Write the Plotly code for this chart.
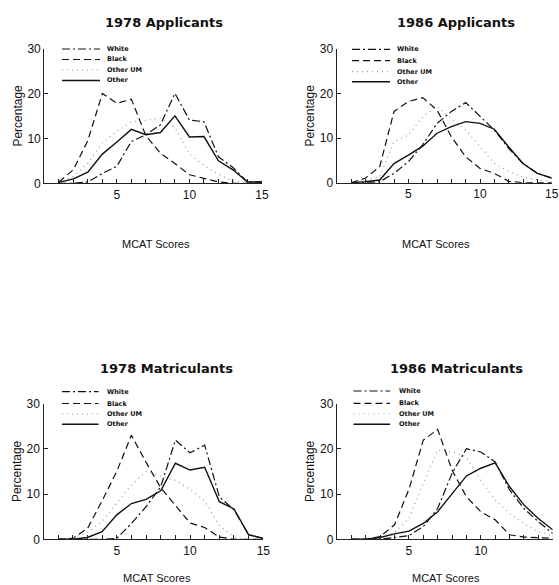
import plotly.graph_objects as go

W, H = 559, 585

scores = list(range(1, 16))
series_names = ["White", "Black", "Other UM", "Other"]
panel_titles = ["1978 Applicants", "1986 Applicants", "1978 Matriculants", "1986 Matriculants"]
x_tick_vals = list(range(1, 16))
x_tick_text = ["" if v % 5 else str(v) for v in x_tick_vals]
y_tick_vals = [0, 10, 20, 30]
y_tick_text = ["0", "10", "20", "30"]

app78_white = [0, 0, 0.3, 2.2, 3.8, 9.3, 10.8, 13, 20, 14.1, 13.7, 5.9, 3.5, 0.3, 0.3]
app78_black = [0.3, 3, 9.5, 20, 17.8, 18.7, 10.6, 6.7, 4.4, 1.9, 1.1, 0.3, 0, 0, 0]
app78_otherum = [0, 1.5, 4.5, 9, 11.5, 13.7, 14, 14.5, 12.5, 6.5, 4, 2, 0.5, 0, 0]
app78_other = [0.2, 1, 2.5, 6.5, 9.2, 12, 10.8, 11.3, 15, 10.3, 10.4, 5, 3, 0.3, 0.3]

app86_white = [0, 0, 0.2, 2.1, 4.7, 8.5, 13.3, 16, 18, 14.8, 11.8, 7.7, 4.3, 2.1, 1]
app86_black = [0, 1, 3.6, 16, 18.2, 19.1, 16.3, 10.3, 5.8, 3.2, 2.1, 0.3, 0, 0, 0]
app86_otherum = [0, 0.5, 1.3, 9.2, 10.7, 14.8, 17.1, 14.5, 11.8, 8.1, 4.3, 2.5, 1.3, 0.6, 0.3]
app86_other = [0, 0.2, 0.6, 4.3, 6.2, 8.2, 11.1, 12.6, 13.7, 13.3, 12, 8, 4.3, 2.1, 1.1]

mat78_white = [0, 0, 0, 0, 0.2, 3.5, 7.2, 11.6, 21.9, 19.1, 20.8, 9.4, 6.5, 1, 0.2]
mat78_black = [0, 0.2, 2.4, 8.5, 15, 23, 17, 11.4, 7.5, 3.6, 2.6, 0.5, 0, 0, 0]
mat78_otherum = [0, 0.3, 1.5, 4, 8, 12, 15, 14, 13, 11, 8.5, 3, 0.5, 0, 0]
mat78_other = [0, 0, 0.4, 1.7, 5.4, 7.9, 8.8, 10.7, 16.8, 15.3, 15.9, 8.3, 6.7, 1, 0.2]

mat86_white = [0, 0, 0, 0.4, 0.8, 2.8, 6.8, 14.6, 20, 19.3, 17.1, 10.9, 6.8, 3.9, 1.3]
mat86_black = [0, 0, 0.6, 3.2, 11, 21.9, 24.3, 15.3, 9.4, 6.1, 4.3, 1, 0.5, 0.3, 0.2]
mat86_otherum = [0, 0, 0.3, 1.5, 4.6, 12.4, 19.7, 19.3, 18.2, 13, 8.7, 5.7, 3.5, 1.7, 0.7]
mat86_other = [0, 0, 0.4, 1.2, 1.8, 3.5, 6.1, 10.1, 14, 15.7, 16.9, 11.6, 7.6, 4.6, 2.1]

panels_data = [
    [app78_white, app78_black, app78_otherum, app78_other],
    [app86_white, app86_black, app86_otherum, app86_other],
    [mat78_white, mat78_black, mat78_otherum, mat78_other],
    [mat86_white, mat86_black, mat86_otherum, mat86_other],
]

styles = [
    dict(color="#111111", width=1.2, dash="8px,3px,2px,3px"),
    dict(color="#111111", width=1.2, dash="7px,4px"),
    dict(color="#9a9a9a", width=1.2, dash="1px,4px"),
    dict(color="#111111", width=1.4, dash="solid"),
]

def px(x):
    return x / W

def py(y):
    return 1 - y / H

# pixel geometry of each panel: (x0, x1, ybottom, ytop)
geom = [
    (44.3, 262.0, 183.3, 48.5),
    (336.7, 551.7, 182.7, 49.0),
    (43.5, 263.3, 539.3, 403.5),
    (337.0, 552.7, 539.3, 403.5),
]
title_pos = [(164, 23), (456, 23), (166, 368), (456, 368)]
xtitle_pos = [(156, 244), (436, 244), (157, 578), (446, 578)]
legend_geom = [
    (62, 100, 105, [49, 59.5, 70, 80.5]),
    (352, 390, 395, [49.3, 60.7, 71.7, 81.7]),
    (62, 98.5, 105, [391.7, 403.5, 414, 424.3]),
    (353.5, 390, 397, [391, 403.3, 414, 424.3]),
]

fig = go.Figure()
font_family = "Liberation Sans, Arial, sans-serif"
title_family = "DejaVu Sans, Liberation Sans, sans-serif"
shapes = []
annotations = []

for i, data in enumerate(panels_data):
    xa = "x" if i == 0 else f"x{i+1}"
    ya = "y" if i == 0 else f"y{i+1}"
    for name, vals, st in zip(series_names, data, styles):
        fig.add_trace(go.Scatter(x=scores, y=vals, mode="lines", name=name,
                                 line=st, xaxis=xa, yaxis=ya, showlegend=False,
                                 cliponaxis=False))
    x0, x1, yb, yt = geom[i]
    axkey = "xaxis" if i == 0 else f"xaxis{i+1}"
    aykey = "yaxis" if i == 0 else f"yaxis{i+1}"
    fig.layout[axkey] = dict(
        domain=[px(x0), px(x1)], range=[0, 15], anchor=ya, automargin=False,
        showline=True, linecolor="#222", linewidth=1,
        ticks="inside", ticklen=4, tickcolor="#222", tickwidth=1,
        tickvals=x_tick_vals, ticktext=x_tick_text,
        tickfont=dict(family=font_family, size=12, color="#111"),
        showgrid=False, zeroline=False, fixedrange=True)
    fig.layout[aykey] = dict(
        domain=[py(yb), py(yt)], range=[0, 30], anchor=xa, automargin=False,
        showline=True, linecolor="#222", linewidth=1.3,
        ticks="inside", ticklen=4, tickcolor="#222", tickwidth=1,
        tickvals=y_tick_vals, ticktext=y_tick_text,
        tickfont=dict(family=font_family, size=12, color="#111"),
        showgrid=False, zeroline=False, fixedrange=True,
        title=dict(text="Percentage", standoff=2,
                   font=dict(family=font_family, size=12, color="#111")))
    tx, ty = title_pos[i]
    annotations.append(dict(text="<b>" + panel_titles[i] + "</b>", x=px(tx), y=py(ty),
                            xref="paper", yref="paper", showarrow=False,
                            xanchor="center", yanchor="middle",
                            font=dict(family=title_family, size=13, color="#111")))
    mx, my = xtitle_pos[i]
    annotations.append(dict(text="MCAT Scores", x=px(mx), y=py(my),
                            xref="paper", yref="paper", showarrow=False,
                            xanchor="center", yanchor="middle",
                            font=dict(family=font_family, size=11, color="#111")))
    lx0, lx1, ltx, rows = legend_geom[i]
    for name, st, ry in zip(series_names, styles, rows):
        shapes.append(dict(type="line", xref="paper", yref="paper",
                           x0=px(lx0), x1=px(lx1), y0=py(ry), y1=py(ry),
                           line=dict(color=st["color"], width=st["width"], dash=st["dash"])))
        annotations.append(dict(text="<b>" + name + "</b>", x=px(ltx), y=py(ry),
                                xref="paper", yref="paper", showarrow=False,
                                xanchor="left", yanchor="middle",
                                font=dict(family=title_family, size=6.5, color="#111")))

fig.update_layout(
    width=W, height=H, margin=dict(l=0, r=0, t=0, b=0),
    paper_bgcolor="white", plot_bgcolor="white",
    showlegend=False, shapes=shapes, annotations=annotations,
)

fig.write_html("out.html")
